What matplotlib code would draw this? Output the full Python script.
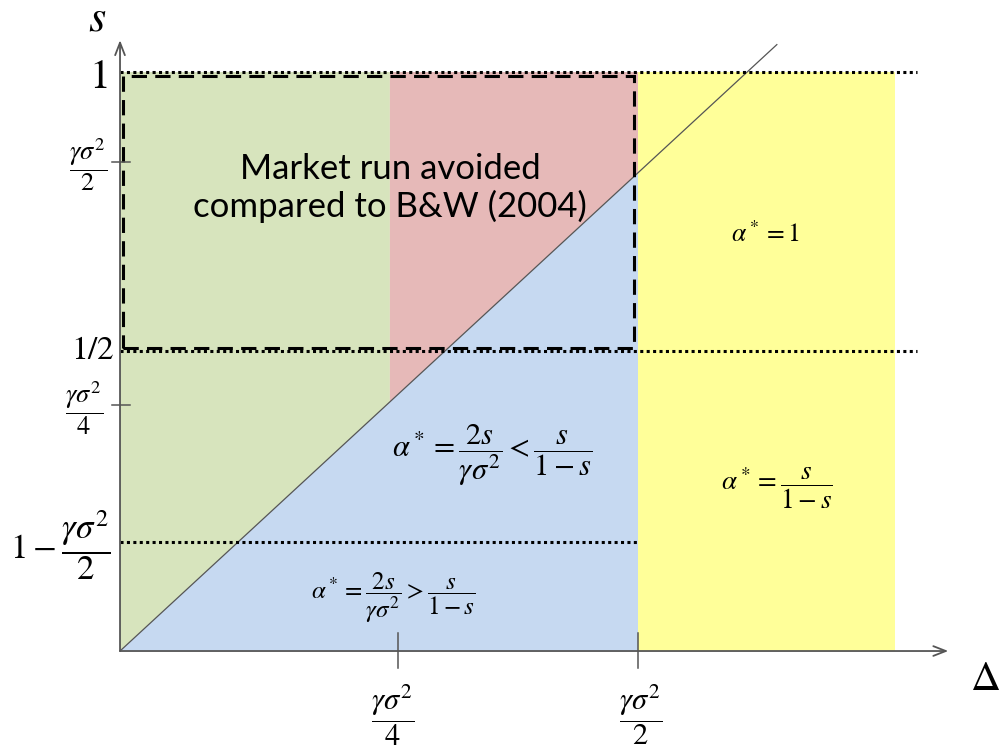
import matplotlib
matplotlib.use("Agg")
import matplotlib.pyplot as plt
from matplotlib.patches import Polygon, Rectangle

plt.rcParams['mathtext.fontset'] = 'stix'
plt.rcParams['font.family'] = ['STIXGeneral', 'DejaVu Sans']

# ---- diagram values (x axis = Delta, y axis = s) ----
delta_quarter = 0.537      # gamma*sigma^2/4 on the Delta axis
delta_half = 1.0           # gamma*sigma^2/2 on the Delta axis
region_split = 0.521       # boundary between green and red regions
yellow_right = 1.496       # right edge of the yellow region
s_levels = [1.0, 0.518]    # s = 1 and s = 1/2 dotted lines
s_one_minus = 0.188        # 1 - gamma*sigma^2/2 dotted line
s_gs2 = 0.845              # gamma*sigma^2/2 tick on s axis
s_gs4 = 0.425              # gamma*sigma^2/4 tick on s axis
diag_slope = 0.826         # slope of the boundary line
diag_end = 1.268           # x where the drawn diagonal stops
dotted_end = 1.539
box_lbrt = [0.006, 0.523, 0.992, 0.993]   # dashed rectangle

region_colors = {'green': '#D7E4BD', 'red': '#E6B9B8',
                 'blue': '#C6D9F1', 'yellow': '#FFFF99'}

fig = plt.figure(figsize=(10, 7.48), dpi=100)
ax = fig.add_axes([0, 0, 1, 1])
ax.set_xlim(-0.2317, 1.6988)
ax.set_ylim(-0.1675, 1.1244)
ax.axis('off')

ys = region_split * diag_slope
ax.add_patch(Polygon([(0, 0), (region_split, ys), (region_split, 1), (0, 1)],
                     closed=True, fc=region_colors['green'], ec='none', zorder=1))
ax.add_patch(Polygon([(region_split, ys), (delta_half, diag_slope * delta_half),
                      (delta_half, 1), (region_split, 1)],
                     closed=True, fc=region_colors['red'], ec='none', zorder=1))
ax.add_patch(Polygon([(0, 0), (delta_half, 0), (delta_half, diag_slope * delta_half)],
                     closed=True, fc=region_colors['blue'], ec='none', zorder=1))
ax.add_patch(Rectangle((delta_half, 0), yellow_right - delta_half, 1.0,
                       fc=region_colors['yellow'], ec='none', zorder=1))

# diagonal
ax.plot([0, diag_end], [0, diag_slope * diag_end], color='#555555', lw=0.9, zorder=3)

# dotted lines
for s in s_levels:
    ax.plot([0, dotted_end], [s, s], color='black', lw=2.2,
            linestyle=(0, (1, 1.1)), zorder=4)
ax.plot([0, delta_half], [s_one_minus, s_one_minus], color='black', lw=2.2,
        linestyle=(0, (1, 1.1)), zorder=4)

# dashed rectangle
l, b, r, t = box_lbrt
ax.add_patch(Rectangle((l, b), r - l, t - b, fill=False, ec='black', lw=2.2,
                       linestyle=(0, (5, 2.7)), zorder=5))

# axes arrows
axc = '#555555'
ax.annotate('', xy=(1.599, 0), xytext=(0, 0),
            arrowprops=dict(arrowstyle='->,head_length=0.9,head_width=0.35',
                            color=axc, lw=1.3, shrinkA=0, shrinkB=0), zorder=6)
ax.annotate('', xy=(0, 1.055), xytext=(0, 0),
            arrowprops=dict(arrowstyle='->,head_length=0.9,head_width=0.35',
                            color=axc, lw=1.3, shrinkA=0, shrinkB=0), zorder=6)

# ticks
for yt in [s_gs2, s_gs4]:
    ax.plot([-0.015, 0.019], [yt, yt], color=axc, lw=1.1, zorder=6)
for xt in [delta_quarter, delta_half]:
    ax.plot([xt, xt], [-0.029, 0.031], color=axc, lw=1.1, zorder=6)

# axis labels
ax.text(-0.044, 1.09, r'$s$', fontsize=32, ha='center', va='center')
ax.text(1.67, -0.05, r'$\Delta$', fontsize=30, ha='center', va='center')

# s-axis tick labels
ax.text(-0.042, 0.99, r'$1$', fontsize=30, ha='center', va='center')
ax.text(-0.052, 0.518, r'$1/2$', fontsize=24, ha='center', va='center')
ax.text(-0.062, s_gs2 - 0.005, r'$\dfrac{\gamma\sigma^2}{2}$', fontsize=19, ha='center', va='center')
ax.text(-0.069, s_gs4 - 0.005, r'$\dfrac{\gamma\sigma^2}{4}$', fontsize=19, ha='center', va='center')
ax.text(-0.116, s_one_minus - 0.005, r'$1-\dfrac{\gamma\sigma^2}{2}$', fontsize=25, ha='center', va='center')

# Delta-axis tick labels
ax.text(delta_quarter - 0.01, -0.11, r'$\dfrac{\gamma\sigma^2}{4}$', fontsize=22,
        ha='center', va='center')
ax.text(delta_half + 0.006, -0.11, r'$\dfrac{\gamma\sigma^2}{2}$', fontsize=22,
        ha='center', va='center')

# region formulas
ax.text(1.245, 0.718, r'$\alpha^* = 1$', fontsize=18.5, ha='center', va='center')
ax.text(1.268, 0.281, r'$\alpha^* = \dfrac{s}{1-s}$', fontsize=19.5, ha='center', va='center')
ax.text(0.718, 0.338, r'$\alpha^* = \dfrac{2s}{\gamma\sigma^2} < \dfrac{s}{1-s}$',
        fontsize=22, ha='center', va='center')
ax.text(0.527, 0.092, r'$\alpha^* = \dfrac{2s}{\gamma\sigma^2} > \dfrac{s}{1-s}$',
        fontsize=18, ha='center', va='center')

ax.text(0.521, 0.80, 'Market run avoided\ncompared to B&W (2004)', family='Lato',
        fontsize=25, ha='center', va='center', linespacing=1.2, zorder=7)

fig.savefig('out.png', dpi=100)
